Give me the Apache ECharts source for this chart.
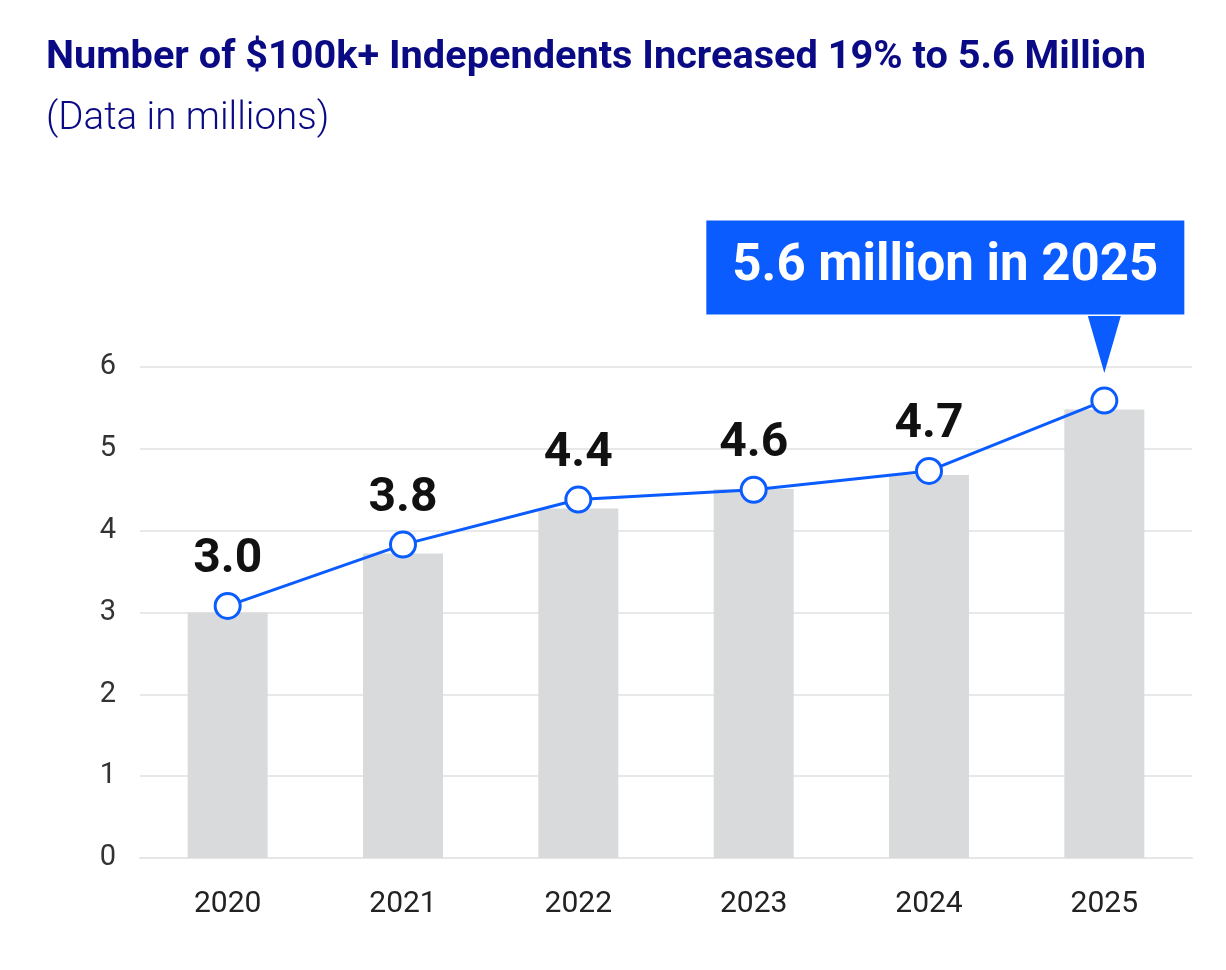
<!DOCTYPE html>
<html>
<head>
<meta charset="utf-8">
<script src="https://cdn.jsdelivr.net/npm/echarts@6/dist/echarts.min.js"></script>
<style>
html,body{margin:0;padding:0;background:#fff;}
#chart{width:1226px;height:970px;}
</style>
</head>
<body>
<div id="chart"></div>
<script>
const categories = ['2020', '2021', '2022', '2023', '2024', '2025'];
const barValues = [3.0, 3.72, 4.27, 4.51, 4.68, 5.48];
const lineValues = [3.08, 3.83, 4.38, 4.5, 4.73, 5.59];
const pointLabels = ['3.0', '3.8', '4.4', '4.6', '4.7', '5.6 million in 2025'];
const yTicks = [0, 1, 2, 3, 4, 5, 6];

const BLUE = '#0a5cff';
const NAVY = '#0a0a85';
const lastIdx = categories.length - 1;

const lineData = lineValues.map((v, i) => {
  const item = { value: v, label: { formatter: pointLabels[i] } };
  if (i === lastIdx) {
    item.label = {
      formatter: pointLabels[i],
      color: '#fff',
      backgroundColor: BLUE,
      fontSize: 51,
      lineHeight: 52,
      fontWeight: 'bold',
      padding: [21, 26, 21, 26],
      distance: 72,
      offset: [-159, 0]
    };
  }
  return item;
});

const chart = echarts.init(document.getElementById('chart'));
chart.setOption({
  animation: false,
  backgroundColor: '#fff',
  title: {
    text: 'Number of $100k+ Independents Increased 19% to 5.6 Million',
    subtext: '(Data in millions)',
    left: 41,
    top: 33,
    itemGap: 22,
    textStyle: { fontFamily: 'Roboto', fontWeight: 'bold', fontSize: 39.7, color: NAVY },
    subtextStyle: { fontFamily: 'Roboto', fontWeight: 300, fontSize: 38.5, color: NAVY }
  },
  grid: { left: 140, right: 34, top: 367, bottom: 112 },
  xAxis: {
    type: 'category',
    data: categories,
    axisTick: { show: false },
    axisLine: { lineStyle: { color: '#e6e6e6', width: 2 } },
    axisLabel: { color: '#222', fontSize: 30, fontFamily: 'Roboto', margin: 31 }
  },
  yAxis: {
    type: 'value',
    min: yTicks[0],
    max: yTicks[yTicks.length - 1],
    interval: 1,
    axisLine: { show: false },
    axisTick: { show: false },
    axisLabel: { color: '#333', fontSize: 29, fontFamily: 'Roboto', margin: 24 },
    splitLine: { lineStyle: { color: '#e8e8e8', width: 2 } }
  },
  series: [
    {
      type: 'bar',
      data: barValues,
      barWidth: 80,
      itemStyle: { color: '#d9dadc' },
      silent: true
    },
    {
      type: 'line',
      data: lineData,
      symbol: 'circle',
      symbolSize: 25,
      lineStyle: { color: BLUE, width: 3 },
      itemStyle: { color: '#fff', borderColor: BLUE, borderWidth: 3 },
      label: {
        show: true,
        position: 'top',
        distance: 8,
        fontFamily: 'Roboto',
        fontWeight: 'bold',
        fontSize: 48,
        color: '#111'
      },
      markPoint: {
        silent: true,
        data: [{
          coord: [lastIdx, lineValues[lastIdx]],
          symbol: 'path://M0,0L2,0L1,3Z',
          symbolSize: [33, 57],
          symbolOffset: [0, -56],
          itemStyle: { color: BLUE },
          label: { show: false }
        }]
      },
      z: 5
    }
  ]
});
</script>
</body>
</html>
